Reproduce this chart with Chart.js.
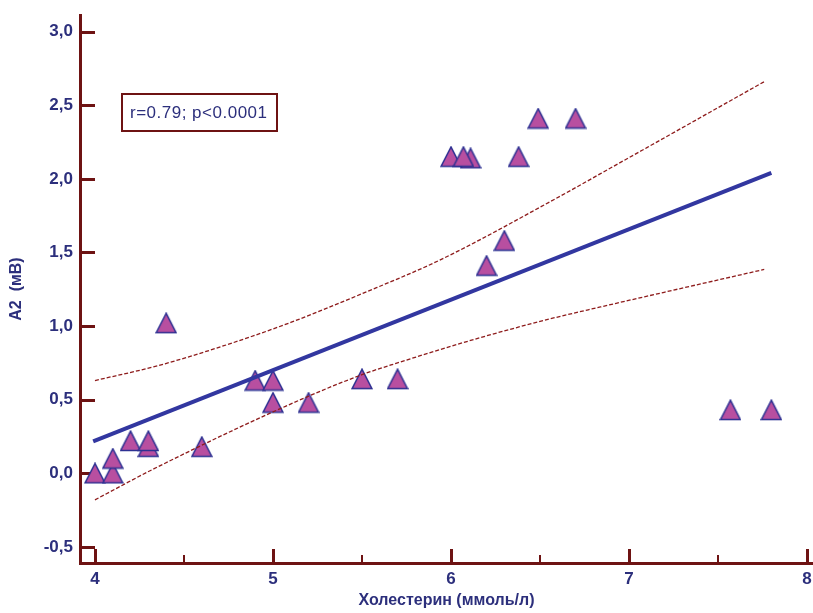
<!DOCTYPE html>
<html>
<head>
<meta charset="utf-8">
<script src="https://cdn.jsdelivr.net/npm/chart.js@4.4.1/dist/chart.umd.min.js"></script>
<style>
html, body { margin: 0; padding: 0; background: #fff; }
#wrap { width: 813px; height: 613px; }
</style>
</head>
<body>
<div id="wrap"><canvas id="chart"></canvas></div>
<script>
// points: cholesterol (mmol/l) vs A2 (mV)
const cholesterol = [4.0, 4.1, 4.1, 4.2, 4.3, 4.3, 4.4, 4.6, 4.9, 5.0, 5.0, 5.2, 5.5, 5.7, 6.0, 6.11, 6.07, 6.38, 6.49, 6.7, 6.2, 6.3, 7.57, 7.8];
const a2 = [0.0, 0.0, 0.1, 0.22, 0.18, 0.22, 1.02, 0.18, 0.63, 0.63, 0.48, 0.48, 0.64, 0.64, 2.15, 2.14, 2.15, 2.15, 2.41, 2.41, 1.41, 1.58, 0.43, 0.43];

// regression line ends
const regX = [3.99, 7.80];
const regY = [0.217, 2.04];

// confidence band
const upperX = [4.0, 4.35, 4.72, 5.1, 5.5, 5.94, 6.58, 6.95, 7.76];
const upperY = [0.63, 0.73, 0.865, 1.025, 1.22, 1.45, 1.86, 2.11, 2.66];
const lowerX = [4.0, 4.33, 5.07, 5.5, 5.7, 6.16, 6.56, 6.84, 7.76];
const lowerY = [-0.18, 0.03, 0.455, 0.67, 0.75, 0.92, 1.05, 1.13, 1.385];

// ticks
const xTicks = [4, 5, 6, 7, 8];
const xMinorTicks = [4.5, 5.5, 6.5, 7.5];
const yTicks = [-0.5, 0, 0.5, 1.0, 1.5, 2.0, 2.5, 3.0];
const yTickLabels = ['-0,5', '0,0', '0,5', '1,0', '1,5', '2,0', '2,5', '3,0'];

const axisColor = '#6e1313';
const textColor = '#2c2f7c';

const pts = (xs, ys) => xs.map((x, i) => ({x: x, y: ys[i]}));

function triangleMarker() {
	const c = document.createElement('canvas');
	c.width = 22; c.height = 22;
	const g = c.getContext('2d');
	g.beginPath();
	g.moveTo(11, 1.2);
	g.lineTo(21, 20.6);
	g.lineTo(1, 20.6);
	g.closePath();
	g.fillStyle = '#b84fa0';
	g.fill();
	g.lineWidth = 1.5;
	g.strokeStyle = '#2e3192';
	g.stroke();
	return c;
}

// tick marks drawn inward, like the original
const innerTicks = {
	id: 'innerTicks',
	beforeDatasetsDraw(chart) {
		const ctx = chart.ctx;
		const xs = chart.scales.x, ys = chart.scales.y;
		const area = chart.chartArea;
		ctx.save();
		ctx.strokeStyle = axisColor;
		ctx.lineWidth = 3;
		xTicks.forEach(v => {
			const px = Math.round(xs.getPixelForValue(v)) + 0.5;
			ctx.beginPath(); ctx.moveTo(px, area.bottom); ctx.lineTo(px, area.bottom - 14); ctx.stroke();
		});
		yTicks.forEach(v => {
			const py = Math.round(ys.getPixelForValue(v)) + 0.5;
			ctx.beginPath(); ctx.moveTo(area.left, py); ctx.lineTo(area.left + 15, py); ctx.stroke();
		});
		ctx.lineWidth = 2;
		xMinorTicks.forEach(v => {
			const px = Math.round(xs.getPixelForValue(v));
			ctx.beginPath(); ctx.moveTo(px, area.bottom); ctx.lineTo(px, area.bottom - 8); ctx.stroke();
		});
		ctx.restore();
	}
};

// r / p label box
const statBox = {
	id: 'statBox',
	afterDraw(chart) {
		const ctx = chart.ctx;
		const area = chart.chartArea;
		const bx = area.left + 42, by = area.top + 79;
		ctx.save();
		ctx.strokeStyle = axisColor;
		ctx.lineWidth = 2;
		ctx.strokeRect(bx, by, 155, 37);
		ctx.fillStyle = textColor;
		ctx.font = '17px "Liberation Sans", Arial, sans-serif';
		ctx.letterSpacing = '0.5px';
		ctx.textBaseline = 'middle';
		ctx.fillText('r=0.79; p<0.0001', bx + 8, by + 19);
		ctx.restore();
	}
};

new Chart(document.getElementById('chart'), {
	type: 'scatter',
	data: {
		datasets: [
			{
				label: 'upper',
				data: pts(upperX, upperY),
				showLine: true,
				borderColor: '#8e1c1c',
				borderWidth: 1.3,
				borderDash: [4, 2],
				pointRadius: 0,
				cubicInterpolationMode: 'monotone',
				order: 0
			},
			{
				label: 'lower',
				data: pts(lowerX, lowerY),
				showLine: true,
				borderColor: '#8e1c1c',
				borderWidth: 1.3,
				borderDash: [4, 2],
				pointRadius: 0,
				cubicInterpolationMode: 'monotone',
				order: 0
			},
			{
				label: 'regression',
				data: pts(regX, regY),
				showLine: true,
				borderColor: '#3237a0',
				borderWidth: 4,
				pointRadius: 0,
				order: 1
			},
			{
				label: 'A2',
				data: pts(cholesterol, a2),
				pointStyle: triangleMarker(),
				pointRadius: 11,
				order: 2
			}
		]
	},
	options: {
		responsive: true,
		maintainAspectRatio: false,
		animation: false,
		layout: { autoPadding: false, padding: { top: 15, right: 0, left: 0, bottom: 0 } },
		plugins: {
			legend: { display: false },
			tooltip: { enabled: false }
		},
		scales: {
			x: {
				type: 'linear',
				min: 3.916,
				max: 8.034,
				grid: { display: false, drawTicks: false },
				border: { display: true, color: axisColor, width: 3 },
				afterBuildTicks: s => { s.ticks = xTicks.map(v => ({value: v})); },
				afterFit: s => { s.height = 50; s.paddingLeft = 0; s.paddingRight = 0; },
				ticks: {
					padding: 6,
					color: textColor,
					font: { family: '"Liberation Sans", Arial', size: 17, weight: 'bold' },
					maxRotation: 0,
					callback: v => String(v)
				},
				title: {
					display: true,
					text: 'Холестерин (ммоль/л)',
					color: textColor,
					font: { family: '"Liberation Sans", Arial', size: 16, weight: 'bold' },
					padding: { top: 0, bottom: 3 }
				}
			},
			y: {
				type: 'linear',
				min: -0.609,
				max: 3.113,
				grid: { display: false, drawTicks: false },
				border: { display: true, color: axisColor, width: 3 },
				afterBuildTicks: s => { s.ticks = yTicks.map(v => ({value: v})); },
				afterFit: s => { s.width = 80; s.paddingTop = 0; s.paddingBottom = 0; },
				ticks: {
					padding: 7,
					color: textColor,
					font: { family: '"Liberation Sans", Arial', size: 17, weight: 'bold' },
					callback: (v, i) => yTickLabels[i]
				},
				title: {
					display: true,
					text: 'A2  (мВ)',
					color: textColor,
					font: { family: '"Liberation Sans", Arial', size: 16, weight: 'bold' },
					padding: { top: 7, bottom: 0 }
				}
			}
		}
	},
	plugins: [innerTicks, statBox]
});
</script>
</body>
</html>
